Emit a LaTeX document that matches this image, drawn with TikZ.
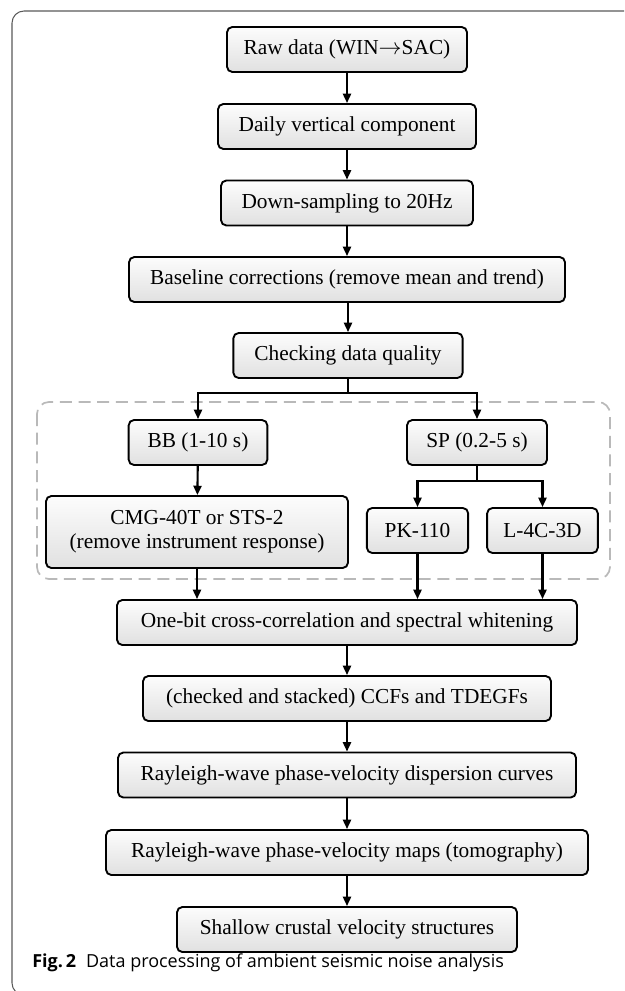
\documentclass[tikz,border=0pt]{standalone}
\usepackage{fontspec}
\setmainfont{Liberation Serif}
\newfontfamily\capfont{Open Sans}
\usetikzlibrary{arrows.meta,calc,positioning}

\tikzset{
  procbox/.style={draw=black, line width=1.4pt, rounded corners=4pt,
    top color=gray!2, bottom color=gray!24, inner sep=0pt,
    minimum height=33.75pt, align=center, font=\fontsize{16}{18}\selectfont},
  flow/.style={line width=1.6pt, -{Triangle[length=7pt,width=6pt]}},
  sensorgroup/.style={draw=gray!55, line width=1.3pt, dash pattern=on 9pt off 5pt,
    rounded corners=9pt}
}

\begin{document}
\begin{tikzpicture}[x=0.75pt,y=-0.75pt]
\useasboundingbox (0,0) rectangle (624,991);
\clip (0,0) rectangle (624,991);
% outer frame
\draw[gray!70!black, line width=0.8pt, rounded corners=9pt] (12,11) rectangle (660,995);

\node[procbox, minimum width=180pt] (raw) at (347,49.5) {Raw data (WIN$\rightarrow$SAC)};
\node[procbox, minimum width=193.5pt] (daily) at (347,126.5) {Daily vertical component};
\node[procbox, minimum width=189pt] (down) at (347,203) {Down-sampling to 20Hz};
\node[procbox, minimum width=327pt] (base) at (347,279.5) {Baseline corrections (remove mean and trend)};
\node[procbox, minimum width=172pt] (check) at (348,355.5) {Checking data quality};

% broadband and short-period branches
\draw[sensorgroup] (37,402) rectangle (610,579);
\node[procbox, minimum width=104pt] (bb) at (198,442.5) {BB (1-10 s)};
\node[procbox, minimum width=105pt] (sp) at (477,442.5) {SP (0.2-5 s)};
\node[procbox, minimum width=226.5pt, minimum height=54pt] (cmg) at (197,532) {CMG-40T or STS-2\\(remove instrument response)};
\node[procbox, minimum width=76pt] (pk) at (417.5,530.5) {PK-110};
\node[procbox, minimum width=83pt] (l4c) at (542.5,530.5) {L-4C-3D};

\node[procbox, minimum width=345pt] (onebit) at (347,622.5) {One-bit cross-correlation and spectral whitening};
\node[procbox, minimum width=306pt] (ccf) at (347,698.5) {(checked and stacked) CCFs and TDEGFs};
\node[procbox, minimum width=343.5pt] (disp) at (347,775) {Rayleigh-wave phase-velocity dispersion curves};
\node[procbox, minimum width=361.5pt] (maps) at (347,852.5) {Rayleigh-wave phase-velocity maps (tomography)};
\node[procbox, minimum width=255pt] (shallow) at (347,929.5) {Shallow crustal velocity structures};

\draw[flow] (raw) -- (daily);
\draw[flow] (daily) -- (down);
\draw[flow] (down) -- (base);
\draw[flow] (base.south -| check.south) -- (check);

\coordinate (fork1) at (check.south |- 0,393);
\draw[flow] (check.south) -- (fork1) -| (bb.north);
\draw[flow] (fork1) -| (sp.north);
\draw[flow] (bb) -- (cmg);
\coordinate (fork2) at (sp.south |- 0,481);
\draw[flow] (sp.south) -- (fork2) -| (pk.north);
\draw[flow] (fork2) -| (l4c.north);

\draw[flow] (cmg.south) -- (cmg.south |- onebit.north);
\draw[flow] (pk.south) -- (pk.south |- onebit.north);
\draw[flow] (l4c.south) -- (l4c.south |- onebit.north);

\draw[flow] (onebit) -- (ccf);
\draw[flow] (ccf) -- (disp);
\draw[flow] (disp) -- (maps);
\draw[flow] (maps) -- (shallow);

\node[anchor=base west, inner sep=0pt, font=\capfont\fontsize{13.5}{15}\selectfont] (caption) at (32,967)
  {\textbf{Fig.\,2}\hspace{0.55em}Data processing of ambient seismic noise analysis};
\end{tikzpicture}
\end{document}
